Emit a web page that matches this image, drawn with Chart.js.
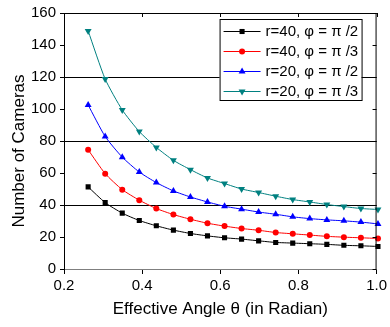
<!DOCTYPE html>
<html>
<head>
<meta charset="utf-8">
<script src="https://cdn.jsdelivr.net/npm/chart.js@4.4.1/dist/chart.umd.min.js"></script>
<style>
  html, body { margin: 0; padding: 0; background: #fff; }
  #wrap { width: 390px; height: 327px; }
</style>
</head>
<body>
<div id="wrap"><canvas id="chart" width="390" height="327"></canvas></div>
<script>
// effective angle theta (radian), 15 deg .. 57.5 deg in steps of 2.5 deg
const thetaValues = [0.2618, 0.3054, 0.3491, 0.3927, 0.4363, 0.4800, 0.5236, 0.5672, 0.6109,
    0.6545, 0.6981, 0.7418, 0.7854, 0.8290, 0.8727, 0.9163, 0.9599, 1.0036];

const r40Half  = [51.3, 41.5, 34.9, 30.3, 27.0, 24.3, 22.2, 20.7, 19.5, 18.7, 17.6, 16.6, 16.2, 15.8, 15.4, 14.8, 14.5, 14.1];
const r40Third = [74.5, 59.6, 49.6, 43.0, 37.8, 34.0, 31.1, 28.6, 26.8, 25.3, 24.2, 22.8, 22.0, 21.2, 20.4, 19.9, 19.5, 19.1];
const r20Half  = [102.5, 82.8, 69.9, 60.6, 54.0, 48.8, 45.0, 41.9, 39.2, 37.4, 35.6, 34.2, 32.6, 31.5, 30.7, 30.1, 29.3, 28.2];
const r20Third = [148.8, 118.7, 99.4, 85.9, 76.0, 67.9, 62.1, 56.9, 53.4, 50.0, 47.8, 45.5, 43.4, 41.9, 40.3, 39.0, 37.8, 37.2];

const seriesLabels = ['r=40, \u03C6 = \u03C0 /2', 'r=40, \u03C6 = \u03C0 /3', 'r=20, \u03C6 = \u03C0 /2', 'r=20, \u03C6 = \u03C0 /3'];
const xTicks = [0.2, 0.4, 0.6, 0.8, 1.0];
const yTicks = [0, 20, 40, 60, 80, 100, 120, 140, 160];

const FONT = "'Liberation Sans', Arial, Helvetica, sans-serif";

function toPoints(values) {
    return values.map((v, i) => ({x: thetaValues[i], y: v}));
}

const styles = [
    {color: '#000000', pointStyle: 'rect', radius: 3.6, rotation: 0},
    {color: '#FF0000', pointStyle: 'circle', radius: 3, rotation: 0},
    {color: '#0000FF', pointStyle: 'triangle', radius: 4, rotation: 0},
    {color: '#008080', pointStyle: 'triangle', radius: 4, rotation: 180}
];

const seriesData = [r40Half, r40Third, r20Half, r20Third];

const datasets = seriesData.map((vals, i) => ({
    label: seriesLabels[i],
    data: toPoints(vals),
    borderColor: styles[i].color,
    backgroundColor: styles[i].color,
    borderWidth: 1,
    pointStyle: styles[i].pointStyle,
    pointRadius: styles[i].radius,
    pointRotation: styles[i].rotation,
    pointBorderWidth: 0,
    pointHoverRadius: styles[i].radius,
    tension: 0.2,
    clip: 8
}));

// frame, inner ticks, legend box and y title
const extras = {
    id: 'extras',
    afterDraw(chart) {
        const ctx = chart.ctx;
        const area = chart.chartArea;
        const xs = chart.scales.x, ys = chart.scales.y;
        ctx.save();
        ctx.strokeStyle = '#000';
        ctx.lineWidth = 1;
        ctx.beginPath();
        ctx.moveTo(area.left, area.top + 0.5);
        ctx.lineTo(area.right, area.top + 0.5);
        ctx.moveTo(area.right - 0.5, area.top);
        ctx.lineTo(area.right - 0.5, area.bottom);
        // inner ticks on top and right
        xTicks.forEach(v => {
            const px = Math.round(xs.getPixelForValue(v)) + 0.5;
            ctx.moveTo(px, area.top);
            ctx.lineTo(px, area.top + 4);
        });
        yTicks.forEach(v => {
            const py = Math.round(ys.getPixelForValue(v)) + 0.5;
            ctx.moveTo(area.right, py);
            ctx.lineTo(area.right - 4, py);
        });
        ctx.stroke();

        // legend
        const bw = 142, bh = 81;
        const bx = area.right - 15 - bw, by = area.top + 6;
        ctx.fillStyle = '#fff';
        ctx.fillRect(bx, by, bw, bh);
        ctx.strokeStyle = '#000';
        ctx.strokeRect(bx + 0.5, by + 0.5, bw, bh);
        ctx.font = '15px ' + FONT;
        ctx.textBaseline = 'middle';
        ctx.textAlign = 'left';
        chart.data.datasets.forEach((ds, i) => {
            const y = by + 12 + i * 20;
            ctx.strokeStyle = ds.borderColor;
            ctx.beginPath();
            ctx.moveTo(bx + 4, y + 0.5);
            ctx.lineTo(bx + 41, y + 0.5);
            ctx.stroke();
            ctx.fillStyle = ds.backgroundColor;
            Chart.helpers.drawPoint(ctx, {
                pointStyle: ds.pointStyle,
                rotation: ds.pointRotation,
                radius: ds.pointRadius,
                borderWidth: 0
            }, bx + 22.5, y + 0.5);
            ctx.fillStyle = '#000';
            ctx.fillText(ds.label, bx + 46, y + 1);
        });

        // y axis title
        ctx.translate(19, 151);
        ctx.rotate(-Math.PI / 2);
        ctx.font = '17px ' + FONT;
        ctx.textAlign = 'center';
        ctx.fillStyle = '#000';
        ctx.fillText('Number of Cameras', 0, 0);
        ctx.restore();
    }
};

new Chart(document.getElementById('chart').getContext('2d'), {
    type: 'line',
    data: {datasets},
    plugins: [extras],
    options: {
        responsive: false,
        animation: false,
        events: [],
        layout: {autoPadding: false, padding: {top: 12, right: 10, left: 0, bottom: 0}},
        plugins: {legend: {display: false}, tooltip: {enabled: false}},
        scales: {
            x: {
                type: 'linear',
                min: 0.2,
                max: 1.0,
                afterFit(scale) { scale.height = 58; },
                afterBuildTicks(scale) { scale.ticks = xTicks.map(v => ({value: v})); },
                ticks: {
                    color: '#000',
                    font: {family: FONT, size: 15},
                    padding: 3,
                    callback: v => Number(v).toFixed(1)
                },
                grid: {drawOnChartArea: false, drawTicks: true, tickLength: 5, tickColor: '#000'},
                border: {display: true, color: '#7f7f7f', width: 1},
                title: {
                    display: true,
                    text: 'Effective Angle \u03B8 (in Radian)',
                    color: '#000',
                    font: {family: FONT, size: 17},
                    padding: {top: 0, bottom: 7}
                }
            },
            y: {
                type: 'linear',
                min: 0,
                max: 160,
                afterFit(scale) { scale.width = 64; },
                afterBuildTicks(scale) { scale.ticks = yTicks.map(v => ({value: v})); },
                ticks: {
                    color: '#000',
                    font: {family: FONT, size: 15},
                    padding: 4
                },
                grid: {
                    color: c => (c.tick && c.tick.value > 0 && c.tick.value % 40 === 0) ? '#000' : 'rgba(0,0,0,0)',
                    tickColor: '#000',
                    tickLength: 4,
                    lineWidth: 1
                },
                border: {display: true, color: '#000', width: 1}
            }
        }
    }
});
</script>
</body>
</html>
